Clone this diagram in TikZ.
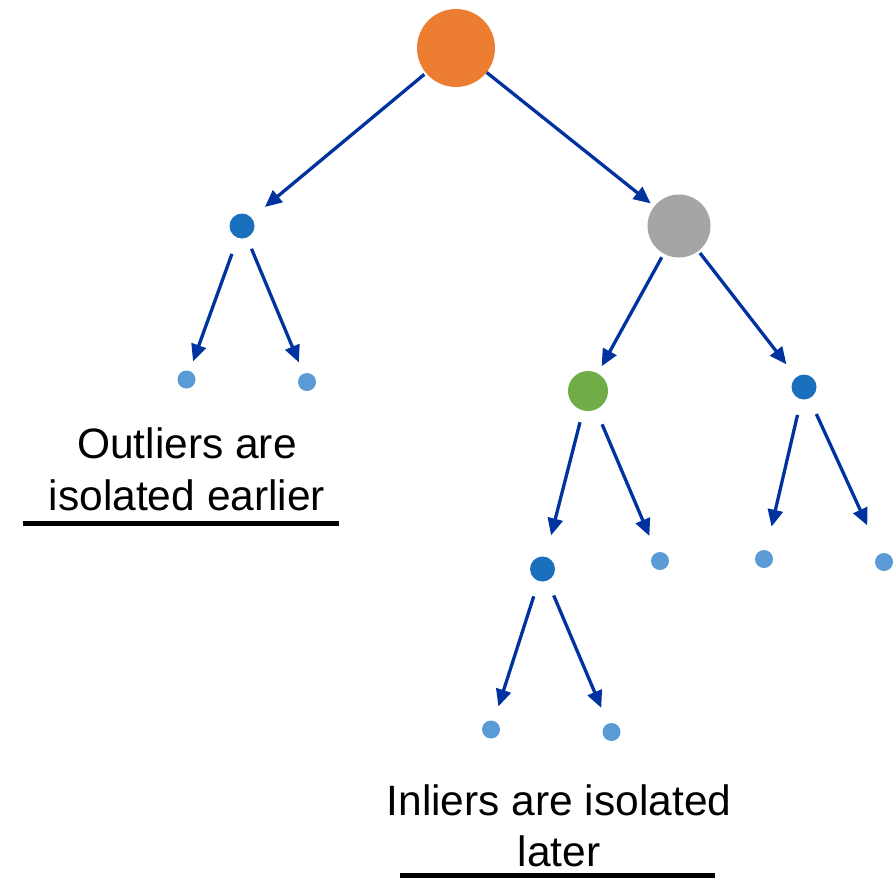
\documentclass[tikz,border=0pt]{standalone}
\usepackage{fontspec}
\setmainfont{Liberation Sans}
\usetikzlibrary{arrows.meta}

\definecolor{rootorange}{HTML}{ED7D31}
\definecolor{splitgray}{HTML}{A5A5A5}
\definecolor{splitgreen}{HTML}{70AD47}
\definecolor{splitblue}{HTML}{1A70BC}
\definecolor{leafblue}{HTML}{5B9BD5}
\definecolor{edgeblue}{HTML}{0033A0}

\tikzset{
  dot/.style={circle, inner sep=0pt, draw=none},
  rootdot/.style={dot, fill=rootorange, minimum size=78pt},
  graydot/.style={dot, fill=splitgray, minimum size=63pt},
  greendot/.style={dot, fill=splitgreen, minimum size=40pt},
  bluedot/.style={dot, fill=splitblue, minimum size=25pt},
  leafdot/.style={dot, fill=leafblue, minimum size=18pt},
  edge/.style={draw=edgeblue, line width=3.3pt,
    -{Triangle[length=17pt,width=15pt]}},
  caption/.style={font=\fontsize{42.5}{52}\selectfont, anchor=base, inner sep=0pt},
  rule/.style={line width=5pt, black}
}

\begin{document}
\begin{tikzpicture}[x=1pt, y=-1pt]
  \useasboundingbox (0,0) rectangle (896,878);

  % tree nodes
  \node[rootdot]  (root)  at (456,48) {};
  \node[bluedot]  (lb)    at (242,226) {};
  \node[graydot]  (gray)  at (679,226) {};
  \node[leafdot]  (l1)    at (186.5,379.5) {};
  \node[leafdot]  (l2)    at (307,382) {};
  \node[greendot] (green) at (588,391) {};
  \node[bluedot]  (rb)    at (804,387) {};
  \node[bluedot]  (mb)    at (542.5,569) {};
  \node[leafdot]  (l3)    at (660,561) {};
  \node[leafdot]  (l4)    at (764,559) {};
  \node[leafdot]  (l5)    at (884,562) {};
  \node[leafdot]  (l6)    at (491,729.5) {};
  \node[leafdot]  (l7)    at (611.5,732) {};

  % edges
  \draw[edge, shorten <=2pt,  shorten >=17pt] (root)  -- (lb);
  \draw[edge, shorten <=0pt,  shorten >=4.5pt] (root) -- (gray);
  \draw[edge, shorten <=17pt, shorten >=10pt] (lb)    -- (l1);
  \draw[edge, shorten <=12pt, shorten >=12pt] (lb)    -- (l2);
  \draw[edge, shorten <=4pt,  shorten >=8pt]  (gray)  -- (green);
  \draw[edge, shorten <=2.5pt,shorten >=16pt] (gray)  -- (rb);
  \draw[edge, shorten <=12pt, shorten >=22pt] (green) -- (mb);
  \draw[edge, shorten <=16pt, shorten >=18pt] (green) -- (l3);
  \draw[edge, shorten <=16pt, shorten >=24pt] (rb)    -- (l4);
  \draw[edge, shorten <=17pt, shorten >=31pt] (rb)    -- (l5);
  \draw[edge, shorten <=16pt, shorten >=15pt] (mb)    -- (l6);
  \draw[edge, shorten <=16pt, shorten >=17pt] (mb)    -- (l7);

  % captions
  \node[caption] (out1) at (187,458) {Outliers are};
  \node[caption] (out2) at (187,510) {isolated earlier};
  \coordinate (outA) at (23,523);
  \coordinate (outB) at (339,523);
  \draw[rule] (outA) -- (outB);

  \node[caption] (in1) at (559,815) {Inliers are isolated};
  \node[caption] (in2) at (559,866) {later};
  \coordinate (inA) at (400,875.5);
  \coordinate (inB) at (715,875.5);
  \draw[rule] (inA) -- (inB);
\end{tikzpicture}
\end{document}
